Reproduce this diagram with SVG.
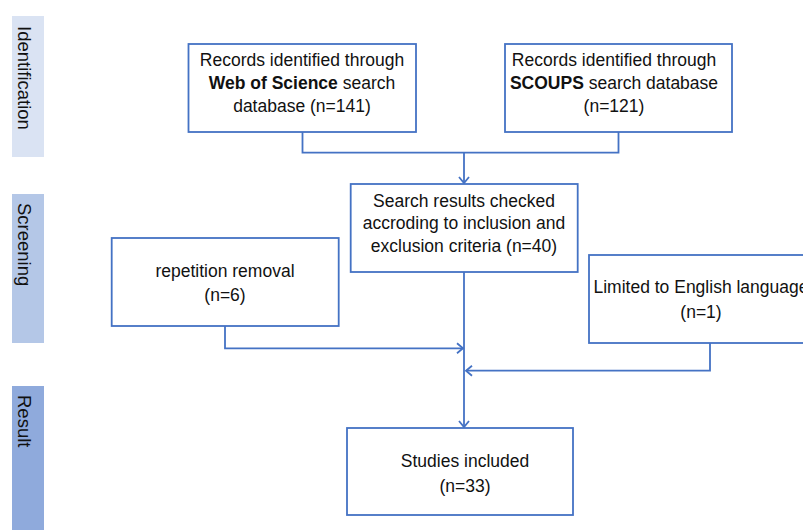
<svg xmlns="http://www.w3.org/2000/svg" width="803" height="530" viewBox="0 0 803 530">
  <style>
    .box { fill: #ffffff; stroke: #4472c4; stroke-width: 1.8; }
    .link { fill: none; stroke: #4472c4; stroke-width: 1.8; }
    .t { font-family: "Liberation Sans", Arial, sans-serif; font-size: 17.5px; fill: #111111; text-anchor: middle; }
    .band-label { font-family: "Liberation Sans", Arial, sans-serif; font-size: 18.5px; fill: #111111; }
    .b { font-weight: bold; }
  </style>
  <defs>
    <marker id="arrow" markerUnits="userSpaceOnUse" markerWidth="10" markerHeight="12" refX="7" refY="5" orient="auto" overflow="visible">
      <path d="M1,0 L7,5 L1,10" fill="none" stroke="#4472c4" stroke-width="1.8"/>
    </marker>
  </defs>

  <!-- phase bands -->
  <g id="band-identification">
    <rect x="12" y="16" width="32" height="141" fill="#dae3f3"/>
    <text class="band-label" transform="translate(18,26) rotate(90)">Identification</text>
  </g>
  <g id="band-screening">
    <rect x="12" y="194" width="32" height="149" fill="#b4c7e7"/>
    <text class="band-label" transform="translate(18,203) rotate(90)">Screening</text>
  </g>
  <g id="band-result">
    <rect x="12" y="386" width="32" height="144" fill="#8faadc"/>
    <text class="band-label" transform="translate(18,395) rotate(90)">Result</text>
  </g>

  <!-- connectors -->
  <g id="connectors">
    <path class="link" d="M302.5,132 V152.7 H618.5 V132"/>
    <path class="link" d="M464,152.7 V183" marker-end="url(#arrow)"/>
    <path class="link" d="M464,272 V427" marker-end="url(#arrow)"/>
    <path class="link" d="M225,326 V348.3 H463" marker-end="url(#arrow)"/>
    <path class="link" d="M710,343 V370.7 H466" marker-end="url(#arrow)"/>
  </g>

  <!-- nodes -->
  <g id="wos">
    <rect class="box" x="188.5" y="44" width="227.5" height="88"/>
    <text class="t" x="302" y="66">Records identified through</text>
    <text class="t" x="302" y="89"><tspan class="b">Web of Science</tspan> search</text>
    <text class="t" x="302" y="112">database (n=141)</text>
  </g>
  <g id="scoups">
    <rect class="box" x="505" y="44" width="227" height="88"/>
    <text class="t" x="614" y="66">Records identified through</text>
    <text class="t" x="614" y="89"><tspan class="b">SCOUPS</tspan> search database</text>
    <text class="t" x="614" y="112">(n=121)</text>
  </g>
  <g id="screened">
    <rect class="box" x="350.7" y="184" width="227" height="88"/>
    <text class="t" x="464" y="207">Search results checked</text>
    <text class="t" x="464" y="229">accroding to inclusion and</text>
    <text class="t" x="464" y="252">exclusion criteria (n=40)</text>
  </g>
  <g id="repetition">
    <rect class="box" x="111.7" y="238" width="227" height="88"/>
    <text class="t" x="225" y="277">repetition removal</text>
    <text class="t" x="225" y="301">(n=6)</text>
  </g>
  <g id="english">
    <rect class="box" x="589" y="255" width="227" height="88"/>
    <text class="t" x="701" y="293">Limited to English language</text>
    <text class="t" x="701" y="318">(n=1)</text>
  </g>
  <g id="included">
    <rect class="box" x="347" y="428" width="226" height="87"/>
    <text class="t" x="465" y="467">Studies included</text>
    <text class="t" x="465" y="492">(n=33)</text>
  </g>
</svg>
